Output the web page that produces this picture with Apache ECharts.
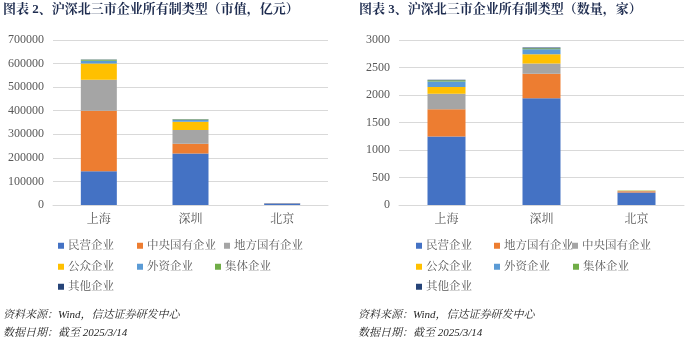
<!DOCTYPE html>
<html>
<head>
<meta charset="utf-8">
<script src="https://cdn.jsdelivr.net/npm/echarts@6/dist/echarts.min.js"></script>
<style>
html,body{margin:0;padding:0;background:#fff;}
#wrap{position:relative;width:700px;height:346px;}
#c1{position:absolute;left:0;top:0;width:350px;height:346px;}
#c2{position:absolute;left:350px;top:0;width:350px;height:346px;}
</style>
</head>
<body>
<div id="wrap"><div id="c1"></div><div id="c2"></div></div>
<script>
// ---- data ----
const cities = ['上海', '深圳', '北京'];

// 图表2 市值（亿元）
const mvTitle = '图表 2、沪深北三市企业所有制类型（市值，亿元）';
const mvNames = ['民营企业', '中央国有企业', '地方国有企业', '公众企业', '外资企业', '集体企业', '其他企业'];
const mvPrivate    = [143000, 219000, 6000];
const mvCentral    = [257000, 41000, 1000];
const mvLocal      = [131000, 58000, 500];
const mvPublic     = [69000, 35000, 300];
const mvForeign    = [12000, 8000, 200];
const mvCollective = [4000, 2000, 50];
const mvOther      = [1500, 1000, 50];
const mvTicks = [0, 100000, 200000, 300000, 400000, 500000, 600000, 700000];

// 图表3 数量（家）
const cntTitle = '图表 3、沪深北三市企业所有制类型（数量，家）';
const cntNames = ['民营企业', '地方国有企业', '中央国有企业', '公众企业', '外资企业', '集体企业', '其他企业'];
const cntPrivate    = [1245, 1940, 226];
const cntLocal      = [496, 446, 22];
const cntCentral    = [280, 186, 8];
const cntPublic     = [125, 169, 3];
const cntForeign    = [100, 91, 2];
const cntCollective = [22, 20, 1];
const cntOther      = [8, 10, 1];
const cntTicks = [0, 500, 1000, 1500, 2000, 2500, 3000];

const sourceText = '资料来源：Wind，信达证券研发中心';
const dateText = '数据日期：截至 2025/3/14';

// ---- styles ----
const colors = ['#4472C4', '#ED7D31', '#A5A5A5', '#FFC000', '#5B9BD5', '#70AD47', '#264478'];
const serif = "'Times New Roman','Liberation Serif','Noto Serif CJK SC','Noto Sans CJK SC',serif";

function build(title, names, dataArr, ticks, L) {
  const series = names.map((n, i) => ({
    name: n, type: 'bar', stack: 'all', barWidth: L.barWidth,
    data: dataArr[i], itemStyle: {color: colors[i]}, emphasis: {disabled: true}
  }));
  const legends = names.map((n, i) => ({
    show: true, data: [n], left: L.legendX[i], top: L.legendY[i],
    padding: 0, itemWidth: 6, itemHeight: 6, icon: 'rect', itemGap: 0,
    selectedMode: false,
    textStyle: {fontSize: 11.5, color: '#595959', fontFamily: serif, padding: [0, 0, 0, -1]}
  }));
  return {
    animation: false,
    color: colors,
    grid: {left: L.gl, right: L.gr, top: 40, bottom: 141},
    xAxis: {
      type: 'category', data: cities,
      axisLine: {show: true, lineStyle: {color: '#D9D9D9', width: 1}},
      axisTick: {show: false},
      axisLabel: {color: '#595959', fontSize: 12, fontFamily: serif, margin: 9}
    },
    yAxis: {
      type: 'value', min: ticks[0], max: ticks[ticks.length - 1], interval: ticks[1] - ticks[0],
      axisLine: {show: false}, axisTick: {show: false},
      splitLine: {lineStyle: {color: '#D9D9D9', width: 1}},
      axisLabel: {color: '#595959', fontSize: 12, fontFamily: serif, margin: 9,
                  formatter: v => String(v)}
    },
    legend: legends,
    series: series,
    graphic: [
      {type: 'text', left: L.tx, top: 3, style: {text: title, font: "bold 13px " + serif, fill: '#1F2D50'}},
      {type: 'text', left: L.sx, top: 310, style: {text: sourceText, font: "italic 11px " + serif, fill: '#262626'}},
      {type: 'text', left: L.sx, top: 328, style: {text: dateText, font: "italic 11px " + serif, fill: '#262626'}}
    ]
  };
}

const c1 = echarts.init(document.getElementById('c1'));
c1.setOption(build(mvTitle, mvNames,
  [mvPrivate, mvCentral, mvLocal, mvPublic, mvForeign, mvCollective, mvOther], mvTicks,
  {gl: 53, gr: 22, barWidth: 36, tx: 3, sx: 3,
   legendX: [58, 137, 224, 58, 137, 215, 58],
   legendY: [240, 240, 240, 261, 261, 261, 281]}));

const c2 = echarts.init(document.getElementById('c2'));
c2.setOption(build(cntTitle, cntNames,
  [cntPrivate, cntLocal, cntCentral, cntPublic, cntForeign, cntCollective, cntOther], cntTicks,
  {gl: 49, gr: 16, barWidth: 38, tx: 9, sx: 8,
   legendX: [66, 144, 222, 66, 144, 223, 66],
   legendY: [240, 240, 240, 261, 261, 261, 281]}));
</script>
</body>
</html>
